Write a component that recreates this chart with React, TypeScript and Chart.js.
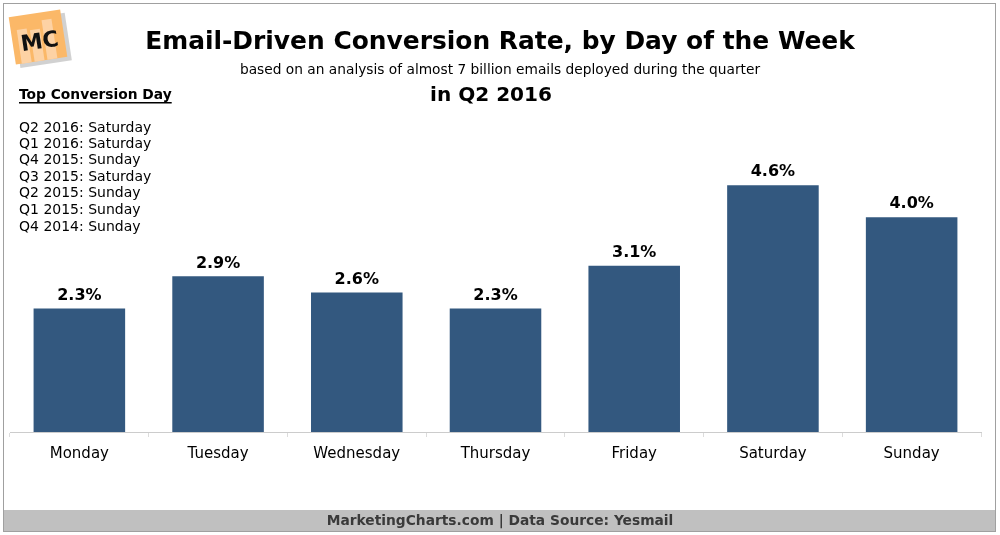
import React, { useEffect, useRef } from "react";
import { Chart, registerables } from "chart.js";

Chart.register(...registerables);

const days = ["Monday", "Tuesday", "Wednesday", "Thursday", "Friday", "Saturday", "Sunday"];
const rates = [2.3, 2.9, 2.6, 2.3, 3.1, 4.6, 4.0];
const historyTitle = "Top Conversion Day";
const historyLines = [
  "Q2 2016: Saturday",
  "Q1 2016: Saturday",
  "Q4 2015: Sunday",
  "Q3 2015: Saturday",
  "Q2 2015: Sunday",
  "Q1 2015: Sunday",
  "Q4 2014: Sunday",
];
const titleText = "Email-Driven Conversion Rate, by Day of the Week";
const subtitleText = "based on an analysis of almost 7 billion emails deployed during the quarter";
const periodText = "in Q2 2016";
const footerText = "MarketingCharts.com | Data Source: Yesmail";
const logoText = "MC";

const FONT = "'DejaVu Sans', Verdana, sans-serif";

function fitText(ctx: CanvasRenderingContext2D, text: string, x: number, y: number, width: number, weight: string, color: string) {
  ctx.font = `${weight} 100px ${FONT}`;
  const w = ctx.measureText(text).width;
  const size = (100 * width) / w;
  ctx.font = `${weight} ${size.toFixed(2)}px ${FONT}`;
  ctx.fillStyle = color;
  ctx.textAlign = "center";
  ctx.textBaseline = "middle";
  ctx.fillText(text, x, y);
}

const overlay = {
  id: "overlay",
  beforeDraw(chart: any) {
    const ctx = chart.ctx as CanvasRenderingContext2D;
    ctx.save();
    ctx.fillStyle = "#ffffff";
    ctx.fillRect(0, 0, chart.width, chart.height);
    ctx.restore();
  },
  afterDraw(chart: any) {
    const ctx = chart.ctx as CanvasRenderingContext2D;
    ctx.save();

    // frame and footer band
    ctx.fillStyle = "#c0c0c0";
    ctx.fillRect(4, 510, 991, 22);
    ctx.strokeStyle = "#a0a0a0";
    ctx.lineWidth = 1;
    ctx.strokeRect(3.5, 3.5, 992, 528);
    fitText(ctx, footerText, 500, 521, 347, "bold", "#3a3a3a");

    // logo
    ctx.save();
    ctx.translate(38, 37);
    ctx.rotate(-0.15);
    ctx.fillStyle = "rgba(0,0,0,0.18)";
    ctx.fillRect(-22, -20, 52, 48);
    ctx.fillStyle = "#fbb868";
    ctx.fillRect(-26, -24, 52, 48);
    ctx.fillStyle = "#fdd2a4";
    ctx.fillRect(-20, -10, 10, 34);
    ctx.fillRect(-7, -8, 10, 32);
    ctx.fillRect(6, -16, 10, 40);
    ctx.fillStyle = "#111";
    ctx.font = `bold 22px ${FONT}`;
    ctx.textAlign = "center";
    ctx.textBaseline = "middle";
    ctx.fillText(logoText, 1, 6);
    ctx.restore();

    // titles
    fitText(ctx, titleText, 500, 43, 710, "bold", "#000");
    fitText(ctx, subtitleText, 500, 70, 520, "normal", "#000");
    fitText(ctx, periodText, 491, 96, 122, "bold", "#000");

    // sidebar
    ctx.font = `bold 13.8px ${FONT}`;
    ctx.fillStyle = "#000";
    ctx.textAlign = "left";
    ctx.textBaseline = "middle";
    ctx.fillText(historyTitle, 19, 95);
    const hw = ctx.measureText(historyTitle).width;
    ctx.fillRect(19, 102, hw, 1.5);
    ctx.font = `14px ${FONT}`;
    const ys = [128, 144, 160, 177, 193, 210, 227];
    historyLines.forEach((t, i) => ctx.fillText(t, 19, ys[i]));

    // value labels
    const meta = chart.getDatasetMeta(0);
    ctx.font = `bold 16px ${FONT}`;
    ctx.textAlign = "center";
    ctx.textBaseline = "middle";
    meta.data.forEach((el: any, i: number) => {
      ctx.fillText(rates[i].toFixed(1) + "%", el.x, el.y - 13);
    });

    ctx.restore();
  },
};

export default function App() {
  const ref = useRef<HTMLCanvasElement | null>(null);
  useEffect(() => {
    document.body.style.margin = "0";
    if (!ref.current) return;
    const chart = new Chart(ref.current, {
      type: "bar",
      data: {
        labels: days,
        datasets: [
          {
            data: rates,
            backgroundColor: "#33587f",
            categoryPercentage: 1,
            barPercentage: 0.66,
          },
        ],
      },
      options: {
        animation: false,
        responsive: true,
        maintainAspectRatio: false,
        layout: { padding: { top: 110, left: 10, right: 19, bottom: 43 } },
        plugins: { legend: { display: false }, tooltip: { enabled: false }, title: { display: false } },
        scales: {
          x: {
            afterFit: (s: any) => {
              s.height = 60;
            },
            grid: { display: true, drawOnChartArea: false, drawTicks: true, tickLength: 5, color: "#dcdcdc", offset: true },
            border: { display: true, color: "#cccccc", dash: [2, 2] },
            ticks: { color: "#000", font: { family: FONT, size: 15 }, padding: 8 },
          },
          y: {
            display: false,
            min: 0,
            max: 6,
          },
        },
      },
      plugins: [overlay],
    });
    return () => chart.destroy();
  }, []);
  return (
    <div style={{ width: 1000, height: 535, position: "relative" }}>
      <canvas ref={ref} />
    </div>
  );
}
